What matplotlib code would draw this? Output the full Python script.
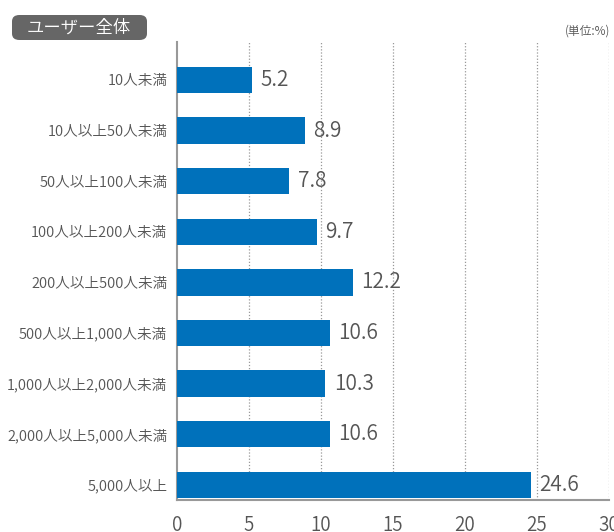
import matplotlib
matplotlib.use("Agg")
import matplotlib.pyplot as plt
from matplotlib.patches import FancyBboxPatch

plt.rcParams['font.family'] = ['Noto Sans CJK JP', 'DejaVu Sans']
W = 350

categories = ["10人未満", "10人以上50人未満", "50人以上100人未満", "100人以上200人未満",
              "200人以上500人未満", "500人以上1,000人未満", "1,000人以上2,000人未満",
              "2,000人以上5,000人未満", "5,000人以上"]
values = [5.2, 8.9, 7.8, 9.7, 12.2, 10.6, 10.3, 10.6, 24.6]
xticks = [0, 5, 10, 15, 20, 25, 30]

fig = plt.figure(figsize=(6.14, 5.32), dpi=100)
ax = fig.add_axes([177/614, 1-500/532, (609-177)/614, (500-42)/532])

bar_color = "#0071BB"
text_color = "#555555"
pos = list(range(len(categories)))
ax.barh(pos, values, height=0.52, color=bar_color, zorder=3)
for p, v in zip(pos, values):
    ax.annotate(f"{v}", (v, p), xytext=(6, 0), textcoords="offset points",
                va="center", ha="left", fontsize=15, color=text_color,
                fontweight=W)

ax.set_ylim(8.3, -0.75)
ax.set_xlim(0, 30)
ax.set_yticks(pos)
ax.set_yticklabels(categories, fontsize=10.5, color=text_color, fontweight=W)
ax.set_xticks(xticks)
ax.set_xticklabels([str(t) for t in xticks], fontsize=13.5, color=text_color,
                   fontweight=W)
ax.tick_params(axis='both', length=0)
ax.tick_params(axis='y', pad=7)
ax.tick_params(axis='x', pad=11)
for t in xticks[1:]:
    ax.axvline(t, color="#999999", linestyle=(0, (1, 1.5)), linewidth=0.9, zorder=1)
for s in ["top", "right"]:
    ax.spines[s].set_visible(False)
ax.spines["left"].set_color("#999999")
ax.spines["bottom"].set_color("#999999")
ax.spines["left"].set_linewidth(1.5)
ax.spines["bottom"].set_linewidth(1.5)

# title box
box = FancyBboxPatch((12/614, 1-40/532), (147-12)/614, (40-15)/532,
                     boxstyle="round,pad=0,rounding_size=0.012",
                     transform=fig.transFigure, facecolor="#666666", edgecolor="none")
fig.patches.append(box)
fig.text(79/614, 1-28/532, "ユーザー全体", color="white", fontsize=12.5,
         ha="center", va="center", fontweight=W)
fig.text(610/614, 1-31/532, "(単位:%)", color=text_color, fontsize=8.5,
         ha="right", va="center", fontweight=W)

fig.savefig("out.png", dpi=100)
